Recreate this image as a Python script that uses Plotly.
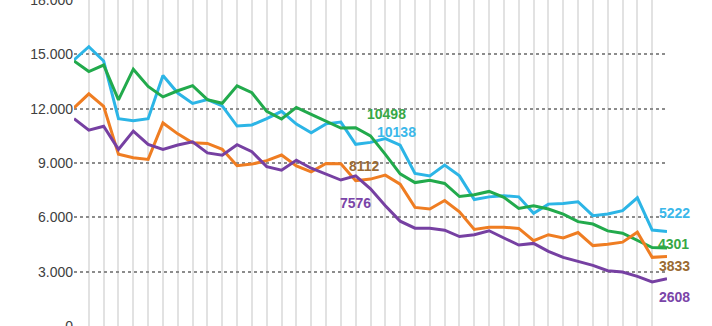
import plotly.graph_objects as go

periods = list(range(41))

cyan_vals = [14690, 15420, 14630, 11450, 11340, 11450, 13830, 12860, 12290, 12500,
             12150, 11040, 11100, 11450, 11850, 11150, 10670, 11160, 11260, 10030,
             10138, 10350, 9980, 8420, 8290, 8890, 8290, 6980, 7130, 7190,
             7130, 6220, 6730, 6770, 6860, 6090, 6180, 6370, 7080, 5300, 5222]
green_vals = [14630, 14050, 14410, 12490, 14180, 13230, 12650, 12990, 13270, 12500,
              12300, 13260, 12880, 11850, 11430, 12070, 11680, 11310, 10930, 10950,
              10498, 9480, 8400, 7920, 8050, 7870, 7150, 7250, 7430, 7100,
              6490, 6640, 6460, 6180, 5760, 5630, 5250, 5120, 4720, 4330, 4301]
orange_vals = [12040, 12820, 12130, 9480, 9290, 9200, 11210, 10610, 10120, 10080,
               9760, 8850, 8940, 9130, 9440, 8840, 8510, 8970, 8960, 8020,
               8112, 8330, 7830, 6550, 6460, 6930, 6300, 5330, 5450, 5450,
               5390, 4710, 5040, 4860, 5160, 4440, 4520, 4630, 5180, 3790, 3833]
purple_vals = [11450, 10810, 11030, 9750, 10760, 10030, 9750, 9990, 10170, 9560,
               9430, 10010, 9620, 8800, 8600, 9150, 8710, 8380, 8060, 8290,
               7576, 6640, 5790, 5400, 5400, 5290, 4940, 5040, 5260, 4860,
               4470, 4560, 4120, 3790, 3570, 3350, 3050, 2980, 2740, 2430, 2608]

y_ticks = [0, 3000, 6000, 9000, 12000, 15000, 18000]

series = [
    ("cyan", cyan_vals, "#2cb5e6"),
    ("green", green_vals, "#22aa4c"),
    ("orange", orange_vals, "#ef7d22"),
    ("purple", purple_vals, "#7640a2"),
]

fig = go.Figure()
for name, vals, col in series:
    fig.add_trace(go.Scatter(x=periods, y=vals, mode="lines", name=name,
                             line=dict(color=col, width=3), showlegend=False))

lab_font = dict(family="Liberation Sans, Arial, sans-serif", size=14)
labels = [
    (20, green_vals[20], "#37a846", 16, 22),
    (20, cyan_vals[20], "#3bb8ea", 26, 10),
    (20, orange_vals[20], "#9a6a32", -6, 13),
    (20, purple_vals[20], "#7a45a8", -15, -14),
    (40, cyan_vals[40], "#3bb8ea", 7, 18),
    (40, green_vals[40], "#37a846", 6, 4),
    (40, orange_vals[40], "#9a6a32", 7, -9),
    (40, purple_vals[40], "#7a45a8", 7, -18),
]
for xi, yv, col, dx, dy in labels:
    fig.add_annotation(x=xi, y=yv, text="<b>%d</b>" % yv, showarrow=False,
                       xanchor="center", yanchor="middle", xshift=dx, yshift=dy,
                       font=dict(color=col, **lab_font))

fig.update_layout(
    width=712, height=326,
    margin=dict(l=74, r=45, t=0, b=0, autoexpand=False),
    paper_bgcolor="white", plot_bgcolor="white",
    separators=",.",
    xaxis=dict(range=[0, 40], tickmode="linear", dtick=1, showticklabels=False,
               showgrid=True, gridcolor="#e2e2e2", gridwidth=2, zeroline=False,
               showline=False),
    yaxis=dict(range=[0, 18000], tickvals=y_ticks, tickformat=",d",
               ticklabeloverflow="allow",
               showgrid=True, gridcolor="#8c8c8c", gridwidth=1.5, griddash="dot",
               zeroline=False, showline=False, ticks="", ticklen=0,
               tickfont=dict(family="Liberation Sans, Arial, sans-serif", size=14,
                             color="#404040")),
)

fig.write_html("out.html")
